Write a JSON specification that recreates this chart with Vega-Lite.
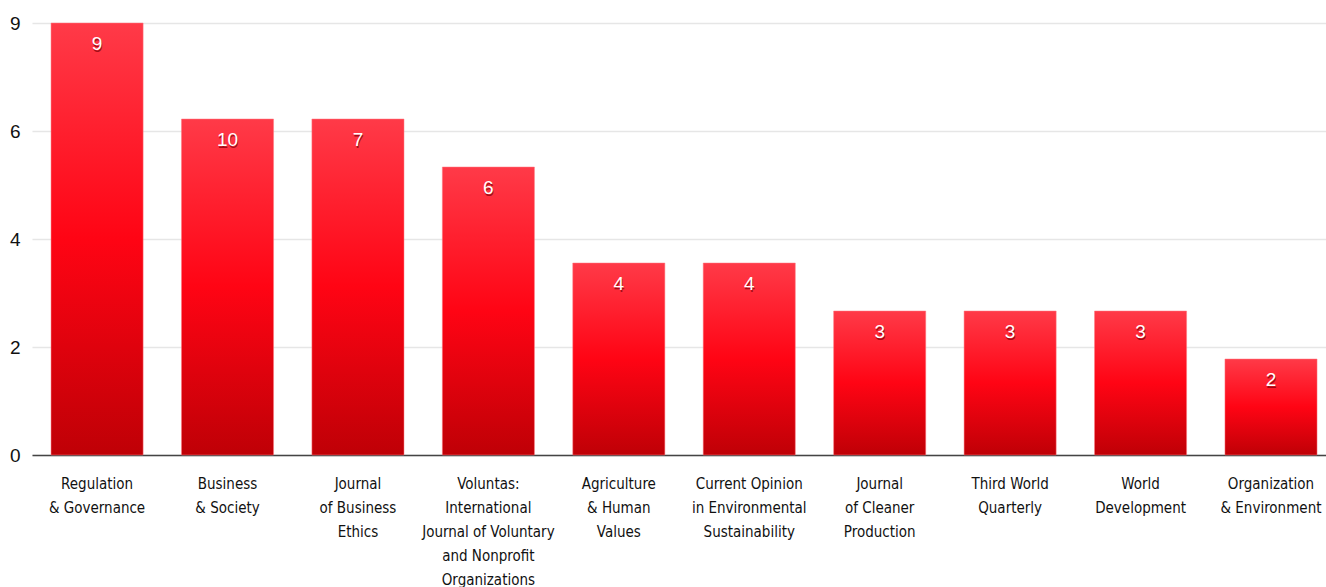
{
  "$schema": "https://vega.github.io/schema/vega-lite/v6.json",
  "autosize": "none",
  "width": 1294,
  "height": 432,
  "padding": {"left": 32, "top": 23, "right": 0, "bottom": 132},
  "background": "white",
  "data": {
    "values": [
      {"journal": "Regulation\n& Governance", "papers": 9, "label": "9"},
      {"journal": "Business\n& Society", "papers": 7, "label": "10"},
      {"journal": "Journal\nof Business\nEthics", "papers": 7, "label": "7"},
      {"journal": "Voluntas:\nInternational\nJournal of Voluntary\nand Nonprofit\nOrganizations", "papers": 6, "label": "6"},
      {"journal": "Agriculture\n& Human\nValues", "papers": 4, "label": "4"},
      {"journal": "Current Opinion\nin Environmental\nSustainability", "papers": 4, "label": "4"},
      {"journal": "Journal\nof Cleaner\nProduction", "papers": 3, "label": "3"},
      {"journal": "Third World\nQuarterly", "papers": 3, "label": "3"},
      {"journal": "World\nDevelopment", "papers": 3, "label": "3"},
      {"journal": "Organization\n& Environment", "papers": 2, "label": "2"}
    ]
  },
  "encoding": {
    "x": {
      "field": "journal", "type": "nominal", "sort": null,
      "scale": {"paddingInner": 0.294, "paddingOuter": 0.1073, "align": 0.68},
      "axis": {
        "title": null, "labelAngle": 0, "ticks": false,
        "domainColor": "#444", "domainWidth": 1.5,
        "labelExpr": "split(datum.value, '\\n')",
        "labelFont": "Liberation Sans Narrow, DejaVu Sans Condensed, sans-serif",
        "labelFontSize": 15, "labelColor": "#111", "labelLineHeight": 24,
        "labelPadding": 21, "labelBaseline": "top", "labelLimit": 300
      }
    },
    "y": {
      "field": "papers", "type": "quantitative",
      "scale": {"domain": [0, 9], "nice": false},
      "axis": {
        "title": null, "values": [0, 2.25, 4.5, 6.75, 9],
        "labelExpr": "floor(datum.value)",
        "domain": false, "ticks": false, "grid": true,
        "gridColor": "#e6e6e6", "gridWidth": 1.5,
        "labelFont": "Liberation Sans, Helvetica, sans-serif",
        "labelFontSize": 19, "labelColor": "#111", "labelPadding": 12
      }
    }
  },
  "layer": [
    {
      "mark": {
        "type": "bar",
        "color": {
          "gradient": "linear", "x1": 0, "y1": 0, "x2": 0, "y2": 1,
          "stops": [
            {"offset": 0, "color": "#ff3a48"},
            {"offset": 0.5, "color": "#ff0414"},
            {"offset": 1, "color": "#bf0006"}
          ]
        },
        "stroke": "#ff7a80", "strokeWidth": 0.5
      }
    },
    {
      "mark": {"type": "text", "baseline": "middle", "align": "center", "dy": 23, "dx": 0.5,
        "font": "Liberation Sans, Helvetica, sans-serif", "fontSize": 19, "color": "#7a0008", "opacity": 0.7},
      "encoding": {"text": {"field": "label"}}
    },
    {
      "mark": {"type": "text", "baseline": "middle", "align": "center", "dy": 21,
        "font": "Liberation Sans, Helvetica, sans-serif", "fontSize": 19, "color": "white"},
      "encoding": {"text": {"field": "label"}}
    }
  ],
  "config": {"view": {"stroke": null}}
}
